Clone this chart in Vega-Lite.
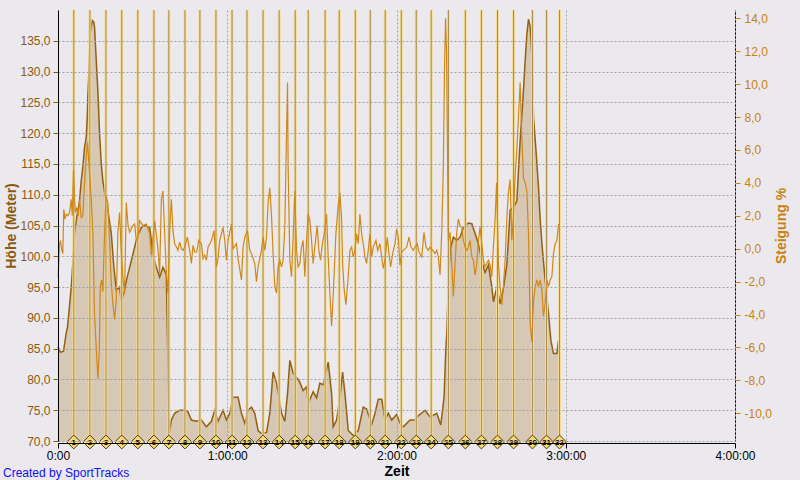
{
  "$schema": "https://vega.github.io/schema/vega-lite/v6.json",
  "autosize": {"type": "none"},
  "padding": {"left": 58, "top": 10, "right": 65, "bottom": 39},
  "width": 677,
  "height": 431,
  "background": "#ebe9ee",
  "config": {
    "view": {"stroke": null},
    "font": "Liberation Sans"
  },
  "title": {"text": "Created by SportTracks", "orient": "bottom", "anchor": "start", "frame": "group", "color": "#1010f0", "fontSize": 12, "fontWeight": "normal", "font": "Liberation Sans", "dx": -55, "offset": -10},
  "datasets": {
    "ele": [
      {"t": 0, "h": 85.3}, {"t": 0.89, "h": 84.4}, {"t": 1.95, "h": 84.6}, {"t": 2.91, "h": 87.5}, {"t": 3.37, "h": 88.5},
      {"t": 4.26, "h": 92.8}, {"t": 4.79, "h": 95.6}, {"t": 5.33, "h": 99.3}, {"t": 5.86, "h": 103.7}, {"t": 6.67, "h": 106.4},
      {"t": 7.63, "h": 109}, {"t": 8.24, "h": 112.3}, {"t": 8.8, "h": 114.5}, {"t": 9.41, "h": 117.7}, {"t": 10.01, "h": 119.3},
      {"t": 10.37, "h": 122.6}, {"t": 10.58, "h": 125.9}, {"t": 10.93, "h": 129.6}, {"t": 11.43, "h": 136.2}, {"t": 12.14, "h": 138.3},
      {"t": 12.71, "h": 138}, {"t": 12.96, "h": 137.2}, {"t": 13.56, "h": 131.8}, {"t": 14.13, "h": 126.9}, {"t": 14.73, "h": 120},
      {"t": 15.34, "h": 115}, {"t": 15.9, "h": 112.3}, {"t": 16.51, "h": 110.4}, {"t": 17.68, "h": 107.4}, {"t": 18.89, "h": 103.7},
      {"t": 19.81, "h": 98.2}, {"t": 20.66, "h": 94.5}, {"t": 21.83, "h": 95}, {"t": 22.44, "h": 92.8}, {"t": 23.36, "h": 94},
      {"t": 24.21, "h": 96}, {"t": 25.99, "h": 99.3}, {"t": 27.76, "h": 102.6}, {"t": 29.54, "h": 104.7}, {"t": 30.71, "h": 105},
      {"t": 32.49, "h": 104.7}, {"t": 33.09, "h": 102.6}, {"t": 33.66, "h": 100.4}, {"t": 34.86, "h": 98.2}, {"t": 36.04, "h": 96.6},
      {"t": 37.21, "h": 98.2}, {"t": 38.41, "h": 97}, {"t": 38.88, "h": 85}, {"t": 39.41, "h": 71.2}, {"t": 40.19, "h": 73.4},
      {"t": 41.36, "h": 74.5}, {"t": 43.14, "h": 75}, {"t": 44.91, "h": 75}, {"t": 45.98, "h": 74.8}, {"t": 47.29, "h": 73.4},
      {"t": 49.06, "h": 73.2}, {"t": 50.84, "h": 73.4}, {"t": 52.61, "h": 72.3}, {"t": 54.39, "h": 73.2}, {"t": 55.56, "h": 75},
      {"t": 56.73, "h": 73.2}, {"t": 58.51, "h": 75}, {"t": 59.72, "h": 73.4}, {"t": 60.89, "h": 74.5}, {"t": 62.06, "h": 77.1},
      {"t": 63.83, "h": 77.1}, {"t": 65.04, "h": 74.5}, {"t": 66.21, "h": 72.9}, {"t": 67.38, "h": 75}, {"t": 68.59, "h": 75.5},
      {"t": 69.76, "h": 74.5}, {"t": 70.93, "h": 71.7}, {"t": 72.14, "h": 71.2}, {"t": 73.92, "h": 71.4}, {"t": 75.09, "h": 74.5},
      {"t": 76.26, "h": 81.2}, {"t": 77.47, "h": 79.4}, {"t": 79.24, "h": 74.5}, {"t": 80.41, "h": 73.2}, {"t": 81.37, "h": 77.7},
      {"t": 82.19, "h": 83.1}, {"t": 83.36, "h": 81}, {"t": 85.14, "h": 80}, {"t": 85.67, "h": 79.6}, {"t": 86.91, "h": 78.2},
      {"t": 88.12, "h": 78.8}, {"t": 88.69, "h": 76.1}, {"t": 90.46, "h": 78}, {"t": 91.67, "h": 77}, {"t": 92.84, "h": 79.4},
      {"t": 94.01, "h": 79.1}, {"t": 95.79, "h": 82.8}, {"t": 96.99, "h": 77.7}, {"t": 97.56, "h": 72.3}, {"t": 98.77, "h": 73.4},
      {"t": 99.94, "h": 77.1}, {"t": 100.9, "h": 81.2}, {"t": 101.72, "h": 77.7}, {"t": 102.89, "h": 71.7}, {"t": 104.66, "h": 70.9},
      {"t": 106.44, "h": 71.7}, {"t": 108.21, "h": 75.5}, {"t": 109.42, "h": 75.2}, {"t": 111.2, "h": 72.6}, {"t": 112.37, "h": 74.5},
      {"t": 113.54, "h": 76.8}, {"t": 114.75, "h": 76.8}, {"t": 115.92, "h": 73.4}, {"t": 117.09, "h": 74.5}, {"t": 118.3, "h": 73.4},
      {"t": 120.07, "h": 74.3}, {"t": 121.24, "h": 72.9}, {"t": 122.41, "h": 72.3}, {"t": 124.79, "h": 73.4}, {"t": 126.57, "h": 73.4},
      {"t": 127.74, "h": 74.1}, {"t": 130.12, "h": 75}, {"t": 131.89, "h": 73.9}, {"t": 134.27, "h": 74.5}, {"t": 135.69, "h": 72.6},
      {"t": 136.86, "h": 77.1}, {"t": 137.47, "h": 84.7}, {"t": 137.82, "h": 87.5}, {"t": 138.39, "h": 95.6}, {"t": 138.99, "h": 101},
      {"t": 140.16, "h": 103.1}, {"t": 141.37, "h": 102.6}, {"t": 142.54, "h": 103.1}, {"t": 143.71, "h": 104.7}, {"t": 145.49, "h": 105.4},
      {"t": 146.69, "h": 105.3}, {"t": 147.87, "h": 103.7}, {"t": 149.04, "h": 102}, {"t": 150.25, "h": 99.1}, {"t": 151.42, "h": 97.4},
      {"t": 152.59, "h": 98.6}, {"t": 153.8, "h": 95}, {"t": 154.37, "h": 92.6}, {"t": 155.57, "h": 95}, {"t": 156.74, "h": 92.3},
      {"t": 157.92, "h": 94.8}, {"t": 159.12, "h": 98.6}, {"t": 160.29, "h": 107.5}, {"t": 161.47, "h": 107.9}, {"t": 162.67, "h": 109},
      {"t": 163.24, "h": 113.9}, {"t": 163.84, "h": 118.8}, {"t": 164.8, "h": 125.3}, {"t": 165.62, "h": 131.8}, {"t": 166.22, "h": 136.1},
      {"t": 166.79, "h": 138.5}, {"t": 167.39, "h": 137.3}, {"t": 168.21, "h": 130.8}, {"t": 168.56, "h": 122.7}, {"t": 169.53, "h": 116.7},
      {"t": 170.34, "h": 111.2}, {"t": 170.94, "h": 106}, {"t": 171.55, "h": 102}, {"t": 172.72, "h": 96}, {"t": 173.89, "h": 90.7},
      {"t": 174.74, "h": 86.3}, {"t": 175.66, "h": 84.2}, {"t": 176.87, "h": 84.2}, {"t": 177.44, "h": 86.3}
    ],
    "grade": [
      {"t": 0.07, "g": -1.7}, {"t": 0.53, "g": 0.3}, {"t": 0.89, "g": 0.5}, {"t": 1.24, "g": 0}, {"t": 1.7, "g": -0.3},
      {"t": 2.06, "g": 2.4}, {"t": 2.49, "g": 1.8}, {"t": 2.91, "g": 2.1}, {"t": 3.48, "g": 2.0}, {"t": 4.08, "g": 2.2},
      {"t": 4.69, "g": 3.0}, {"t": 5.04, "g": 2.0}, {"t": 5.5, "g": 4.8}, {"t": 5.86, "g": 3.0}, {"t": 6.21, "g": 2.2},
      {"t": 6.67, "g": 2.5}, {"t": 7.17, "g": 2.0}, {"t": 7.63, "g": 3.0}, {"t": 8.24, "g": 1.9}, {"t": 8.8, "g": 2.0},
      {"t": 9.41, "g": 4.0}, {"t": 9.94, "g": 5.5}, {"t": 10.47, "g": 6.5}, {"t": 11.01, "g": 5.0}, {"t": 11.79, "g": 3.0},
      {"t": 12.35, "g": 0.9}, {"t": 12.96, "g": -4.1}, {"t": 13.56, "g": -6.0}, {"t": 14.13, "g": -7.9}, {"t": 14.63, "g": -6.3},
      {"t": 14.98, "g": -2.3}, {"t": 15.44, "g": -1.9}, {"t": 15.9, "g": -2.6}, {"t": 16.51, "g": 0.9}, {"t": 16.97, "g": 3.2},
      {"t": 17.68, "g": 2.8}, {"t": 18.28, "g": 0.5}, {"t": 18.89, "g": -2.1}, {"t": 19.45, "g": -3.3}, {"t": 20.06, "g": -4.3},
      {"t": 20.66, "g": -3.1}, {"t": 21.23, "g": 1.0}, {"t": 21.83, "g": 2.2}, {"t": 22.44, "g": -0.3}, {"t": 23.0, "g": -1.7},
      {"t": 23.61, "g": -2.7}, {"t": 24.21, "g": 2.8}, {"t": 24.78, "g": 1.5}, {"t": 25.38, "g": 1.0}, {"t": 26.55, "g": 1.4},
      {"t": 27.16, "g": 1.5}, {"t": 27.76, "g": 0.5}, {"t": 28.33, "g": 0.7}, {"t": 28.93, "g": 1.7}, {"t": 30.1, "g": 1.4},
      {"t": 31.31, "g": 1.5}, {"t": 32.48, "g": 0.9}, {"t": 33.09, "g": -0.4}, {"t": 34.26, "g": 1.7}, {"t": 35.43, "g": 0},
      {"t": 36.03, "g": -1.5}, {"t": 36.64, "g": 3.0}, {"t": 37.2, "g": 3.5}, {"t": 37.81, "g": 1.0}, {"t": 38.41, "g": -1.5},
      {"t": 38.98, "g": -2.7}, {"t": 39.58, "g": 1.0}, {"t": 40.19, "g": 3.0}, {"t": 40.75, "g": 1.1}, {"t": 41.36, "g": 0.3},
      {"t": 41.96, "g": 0.1}, {"t": 42.53, "g": -0.1}, {"t": 43.13, "g": 0.4}, {"t": 43.74, "g": 0}, {"t": 44.3, "g": -0.1},
      {"t": 44.91, "g": 0.1}, {"t": 45.87, "g": 0.7}, {"t": 46.68, "g": -0.1}, {"t": 47.29, "g": -0.9}, {"t": 47.85, "g": 0.2},
      {"t": 48.46, "g": -0.2}, {"t": 49.17, "g": -0.2}, {"t": 49.88, "g": 0.5}, {"t": 50.84, "g": 0.3}, {"t": 51.4, "g": -0.6},
      {"t": 52.01, "g": -0.4}, {"t": 52.61, "g": -0.7}, {"t": 53.18, "g": 0.1}, {"t": 54.39, "g": 0.5}, {"t": 55.31, "g": 1.1},
      {"t": 56.16, "g": -1.1}, {"t": 56.73, "g": -0.6}, {"t": 57.33, "g": 0.5}, {"t": 58.5, "g": 1.3}, {"t": 59.11, "g": 0.5},
      {"t": 59.71, "g": -0.7}, {"t": 60.28, "g": 0.5}, {"t": 61.49, "g": 1.5}, {"t": 62.05, "g": 0}, {"t": 63.26, "g": 0.3},
      {"t": 63.83, "g": -0.6}, {"t": 65.04, "g": -1.9}, {"t": 65.6, "g": 0.1}, {"t": 66.21, "g": 0.7}, {"t": 67.17, "g": 1.1},
      {"t": 67.98, "g": -0.1}, {"t": 68.59, "g": -0.3}, {"t": 69.76, "g": -0.9}, {"t": 70.36, "g": -2.0}, {"t": 70.93, "g": -1.1},
      {"t": 71.53, "g": -0.6}, {"t": 72.14, "g": -0.1}, {"t": 72.7, "g": 0.7}, {"t": 73.31, "g": -0.1}, {"t": 73.91, "g": 0.7},
      {"t": 74.48, "g": 2.8}, {"t": 75.08, "g": 3.7}, {"t": 75.69, "g": 2.0}, {"t": 76.25, "g": -0.3}, {"t": 76.86, "g": -2.3},
      {"t": 77.46, "g": -2.7}, {"t": 78.03, "g": -1.1}, {"t": 78.63, "g": -0.7}, {"t": 79.24, "g": -1.1}, {"t": 79.8, "g": -0.7},
      {"t": 80.41, "g": 1.3}, {"t": 81.01, "g": 7.0}, {"t": 81.37, "g": 10.1}, {"t": 81.58, "g": 5.0}, {"t": 82.18, "g": -0.7},
      {"t": 82.79, "g": -1.7}, {"t": 83.35, "g": 0.7}, {"t": 83.96, "g": 3.5}, {"t": 84.56, "g": -0.1}, {"t": 85.13, "g": -1.1},
      {"t": 85.73, "g": -0.9}, {"t": 86.34, "g": 0.1}, {"t": 86.9, "g": 0.5}, {"t": 87.51, "g": -1.7}, {"t": 88.11, "g": 0.5},
      {"t": 88.68, "g": 2.1}, {"t": 89.28, "g": 1.7}, {"t": 89.89, "g": 0.5}, {"t": 90.45, "g": -0.9}, {"t": 91.06, "g": 0.1},
      {"t": 91.87, "g": 1.4}, {"t": 92.48, "g": -0.1}, {"t": 93.08, "g": -0.7}, {"t": 93.72, "g": 0.3}, {"t": 94.36, "g": 0.9},
      {"t": 95.21, "g": 2.1}, {"t": 95.78, "g": -0.5}, {"t": 96.38, "g": -2.7}, {"t": 96.99, "g": -4.7}, {"t": 97.55, "g": -2.9},
      {"t": 98.51, "g": 0.9}, {"t": 99.33, "g": 2.6}, {"t": 99.93, "g": 3.4}, {"t": 100.54, "g": 1.8}, {"t": 100.89, "g": -0.9},
      {"t": 101.46, "g": -2.5}, {"t": 102.06, "g": -3.4}, {"t": 102.88, "g": -1.7}, {"t": 103.48, "g": -0.1}, {"t": 104.09, "g": 0.1},
      {"t": 104.65, "g": -0.5}, {"t": 105.26, "g": -0.1}, {"t": 105.86, "g": 0.9}, {"t": 106.43, "g": 0.3}, {"t": 107.03, "g": 2.1},
      {"t": 107.64, "g": 0.9}, {"t": 108.2, "g": 0.3}, {"t": 108.81, "g": -0.5}, {"t": 109.41, "g": -0.9}, {"t": 109.98, "g": -0.1},
      {"t": 110.58, "g": 0.9}, {"t": 111.19, "g": -0.5}, {"t": 111.75, "g": 0.1}, {"t": 112.71, "g": 0.5}, {"t": 113.32, "g": -0.1},
      {"t": 114.13, "g": 0.3}, {"t": 114.74, "g": -0.5}, {"t": 115.3, "g": -1.2}, {"t": 115.91, "g": -0.7}, {"t": 116.72, "g": 0.7},
      {"t": 117.33, "g": -0.3}, {"t": 117.93, "g": -1.1}, {"t": 118.64, "g": -0.3}, {"t": 119.46, "g": 0.3}, {"t": 120.06, "g": 1.2},
      {"t": 120.63, "g": 0.7}, {"t": 121.23, "g": -1.0}, {"t": 121.84, "g": -0.2}, {"t": 122.4, "g": -0.1}, {"t": 123.61, "g": 0.1},
      {"t": 124.43, "g": 0.7}, {"t": 125.14, "g": 0.1}, {"t": 125.95, "g": -0.1}, {"t": 126.56, "g": 0.1}, {"t": 127.37, "g": 0.3},
      {"t": 127.98, "g": -0.2}, {"t": 128.94, "g": -0.5}, {"t": 129.75, "g": 1.0}, {"t": 130.46, "g": 0.1}, {"t": 131.28, "g": -0.1},
      {"t": 131.88, "g": 0.1}, {"t": 132.84, "g": -0.1}, {"t": 133.66, "g": -0.3}, {"t": 134.26, "g": -0.1}, {"t": 134.83, "g": -0.5},
      {"t": 135.43, "g": -1.6}, {"t": 136.04, "g": 1.0}, {"t": 136.6, "g": 5.0}, {"t": 137.03, "g": 11.0}, {"t": 137.39, "g": 14.0},
      {"t": 137.74, "g": 12.0}, {"t": 138.38, "g": 0.5}, {"t": 138.98, "g": 1.0}, {"t": 139.59, "g": -0.9}, {"t": 140.15, "g": -2.9},
      {"t": 140.76, "g": -0.9}, {"t": 141.36, "g": 1.0}, {"t": 141.93, "g": 1.8}, {"t": 142.53, "g": 1.4}, {"t": 143.14, "g": 1.3},
      {"t": 143.7, "g": 0.5}, {"t": 144.31, "g": 0.1}, {"t": 144.91, "g": -0.1}, {"t": 145.48, "g": 0.1}, {"t": 146.08, "g": 0.5},
      {"t": 146.69, "g": -0.5}, {"t": 147.25, "g": -0.7}, {"t": 147.86, "g": -1.6}, {"t": 148.46, "g": -0.9}, {"t": 149.03, "g": 0.5},
      {"t": 149.63, "g": 1.3}, {"t": 150.24, "g": 0.3}, {"t": 150.8, "g": -0.7}, {"t": 151.41, "g": -1.1}, {"t": 152.01, "g": -0.9},
      {"t": 152.58, "g": -0.7}, {"t": 153.18, "g": -1.0}, {"t": 153.79, "g": -1.7}, {"t": 154.35, "g": 0.1}, {"t": 154.96, "g": 1.8},
      {"t": 155.49, "g": 4.0}, {"t": 156.13, "g": -0.9}, {"t": 156.73, "g": -2.3}, {"t": 157.34, "g": -3.4}, {"t": 157.9, "g": -2.3},
      {"t": 158.51, "g": -0.7}, {"t": 159.11, "g": 1.8}, {"t": 159.68, "g": 3.4}, {"t": 160.28, "g": 4.2}, {"t": 160.89, "g": 0.5},
      {"t": 161.45, "g": 2.0}, {"t": 162.06, "g": 4.5}, {"t": 162.66, "g": 6.0}, {"t": 163.23, "g": 8.0}, {"t": 163.83, "g": 10.1},
      {"t": 164.37, "g": 7.0}, {"t": 165.0, "g": 4.3}, {"t": 165.61, "g": 4.0}, {"t": 166.21, "g": 3.5}, {"t": 166.78, "g": 1.0},
      {"t": 167.38, "g": -4.5}, {"t": 167.99, "g": -5.7}, {"t": 168.55, "g": -3.2}, {"t": 169.16, "g": -2.3}, {"t": 169.76, "g": -1.9},
      {"t": 170.33, "g": -2.3}, {"t": 170.93, "g": -1.9}, {"t": 171.54, "g": -2.5}, {"t": 172.1, "g": -4.1}, {"t": 172.71, "g": -3.3},
      {"t": 173.31, "g": -1.9}, {"t": 173.88, "g": -2.3}, {"t": 174.48, "g": -1.9}, {"t": 175.09, "g": -1.7}, {"t": 175.65, "g": -0.3},
      {"t": 176.26, "g": 0.3}, {"t": 176.86, "g": 0.5}, {"t": 177.43, "g": 1.5}
    ],
    "laps": [
      {"n": 1, "t": 5.6}, {"n": 2, "t": 11.3}, {"n": 3, "t": 17.0}, {"n": 4, "t": 22.6}, {"n": 5, "t": 28.3},
      {"n": 6, "t": 34.0}, {"n": 7, "t": 39.3}, {"n": 8, "t": 45.0}, {"n": 9, "t": 50.3}, {"n": 10, "t": 56.0},
      {"n": 11, "t": 61.7}, {"n": 12, "t": 67.0}, {"n": 13, "t": 72.7}, {"n": 14, "t": 78.4}, {"n": 15, "t": 84.1},
      {"n": 16, "t": 88.7}, {"n": 17, "t": 94.7}, {"n": 18, "t": 99.7}, {"n": 19, "t": 105.4}, {"n": 20, "t": 110.7},
      {"n": 21, "t": 116.0}, {"n": 22, "t": 121.7}, {"n": 23, "t": 127.0}, {"n": 24, "t": 132.3}, {"n": 25, "t": 138.4},
      {"n": 26, "t": 144.4}, {"n": 27, "t": 150.1}, {"n": 28, "t": 155.8}, {"n": 29, "t": 161.5}, {"n": 30, "t": 168.2},
      {"n": 31, "t": 173.2}, {"n": 32, "t": 177.8}
    ]
  },
  "resolve": {"scale": {"y": "independent"}},
  "layer": [
    {
      "data": {"name": "ele"},
      "encoding": {
        "x": {"field": "t", "type": "quantitative", "scale": {"domain": [0, 240], "nice": false},
          "axis": {"values": [0, 60, 120, 180, 240], "labelExpr": "datum.value == 0 ? '0:00' : (datum.value / 60) + ':00:00'",
            "labelFlush": false, "labelOverlap": false,
            "title": "Zeit", "titleFont": "Liberation Sans", "titleFontSize": 14, "titleFontWeight": "bold", "titleColor": "#000000", "titlePadding": 3,
            "labelFont": "Liberation Sans", "labelFontSize": 12, "labelColor": "#000000", "labelPadding": 2,
            "domainColor": "#000000", "tickColor": "#000000", "tickSize": 5, "offset": 2,
            "grid": true, "gridDash": [2, 2], "gridColor": "#a0a0a0", "zindex": 1}},
        "y": {"field": "h", "type": "quantitative", "scale": {"domain": [70, 140], "nice": false, "zero": false},
          "axis": {"values": [70, 75, 80, 85, 90, 95, 100, 105, 110, 115, 120, 125, 130, 135], "tickCount": 14,
            "labelExpr": "replace(format(datum.value, '.1f'), '.', ',')", "labelOverlap": false, "labelFlush": false,
            "title": "Höhe (Meter)", "titleFont": "Liberation Sans", "titleFontSize": 14, "titleFontWeight": "bold", "titleColor": "#8b5a10", "titlePadding": 1,
            "labelFont": "Liberation Sans", "labelFontSize": 12, "labelColor": "#8b5a10", "labelPadding": 3,
            "domainColor": "#000000", "tickColor": "#8b5a10", "tickSize": 5,
            "grid": true, "gridDash": [2, 2], "gridColor": "#a0a0a0", "zindex": 1}}
      },
      "layer": [
        {"mark": {"type": "area", "color": "#d7c7b5", "line": false}, "encoding": {"y2": {"datum": 70}}},
        {"mark": {"type": "line", "color": "#94600f", "strokeWidth": 1.5}}
      ]
    },
    {
      "data": {"name": "laps"},
      "encoding": {
        "x": {"field": "t", "type": "quantitative", "scale": {"domain": [0, 240], "nice": false}}
      },
      "layer": [
        {"mark": {"type": "rule", "color": "#f3dc9a", "strokeWidth": 3}},
        {"mark": {"type": "rule", "color": "#a98a45", "strokeWidth": 1}}
      ]
    },
    {
      "data": {"name": "grade"},
      "mark": {"type": "line", "color": "#d08816", "strokeWidth": 1.2},
      "encoding": {
        "x": {"field": "t", "type": "quantitative", "scale": {"domain": [0, 240], "nice": false}},
        "y": {"field": "g", "type": "quantitative", "scale": {"domain": [-11.68, 14.5], "nice": false, "zero": false},
          "axis": {"orient": "right", "values": [-10, -8, -6, -4, -2, 0, 2, 4, 6, 8, 10, 12, 14],
            "labelExpr": "replace(replace(format(datum.value, '.1f'), '.', ','), '−', '-')", "labelOverlap": false, "labelFlush": false,
            "title": "Steigung %", "titleAngle": 270, "titleFont": "Liberation Sans", "titleFontSize": 14, "titleFontWeight": "bold", "titleColor": "#c8820f", "titlePadding": 17,
            "labelFont": "Liberation Sans", "labelFontSize": 12, "labelColor": "#c8820f", "labelPadding": 4,
            "domainColor": "#000000", "tickColor": "#c8820f", "tickSize": 5, "grid": false}}
      }
    },
    {
      "data": {"name": "laps"},
      "encoding": {
        "x": {"field": "t", "type": "quantitative", "scale": {"domain": [0, 240], "nice": false}},
        "y": {"datum": 0, "type": "quantitative", "scale": {"domain": [0, 1], "nice": false}, "axis": null}
      },
      "layer": [
        {"mark": {"type": "point", "shape": "diamond", "filled": true, "fill": "#f6da6e", "stroke": "#4a3a1a", "strokeWidth": 1, "size": 190, "opacity": 1, "yOffset": 1}},
        {"mark": {"type": "text", "fontSize": 8, "fontWeight": "bold", "font": "Liberation Sans", "color": "#000000", "align": "center", "baseline": "middle", "yOffset": 1.5},
          "encoding": {"text": {"field": "n", "type": "nominal"}}}
      ]
    }
  ]
}
